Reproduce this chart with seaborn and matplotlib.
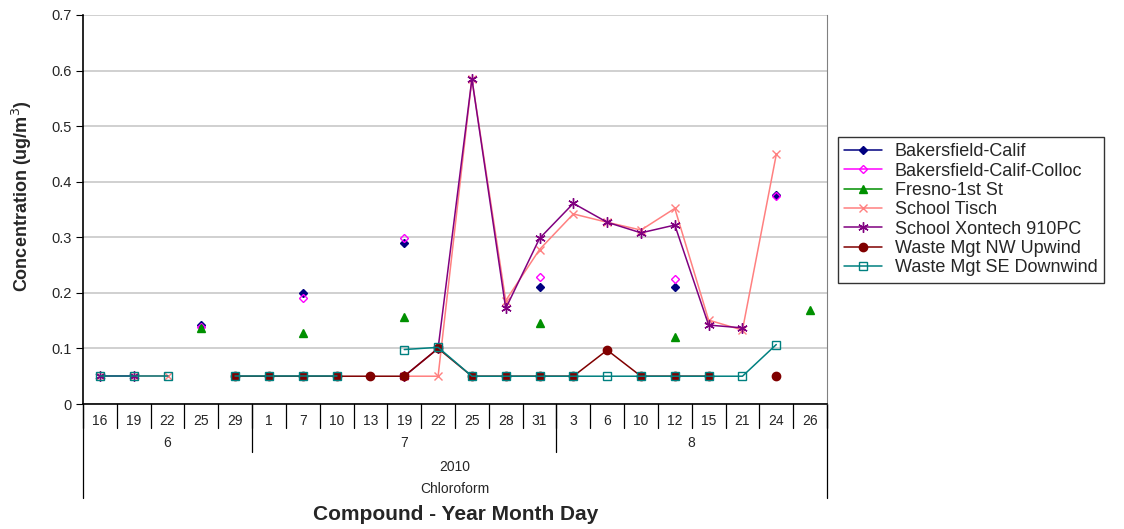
import numpy as np
import pandas as pd
import matplotlib
matplotlib.use("Agg")
import matplotlib.pyplot as plt
import matplotlib.transforms as mtransforms
from matplotlib.lines import Line2D
import seaborn as sns

# x categories: year / month / day
year = "2010"
compound = "Chloroform"
months = ["6"] * 5 + ["7"] * 9 + ["8"] * 8
days = ["16", "19", "22", "25", "29",
        "1", "7", "10", "13", "19", "22", "25", "28", "31",
        "3", "6", "10", "12", "15", "21", "24", "26"]

nan = np.nan
bakersfield = [nan, nan, nan, 0.143, nan, nan, 0.2, nan, nan, 0.289, nan, nan, nan, 0.21,
               nan, nan, nan, 0.21, nan, nan, 0.376, nan]
colloc = [nan, nan, nan, 0.138, nan, nan, 0.19, nan, nan, 0.298, nan, nan, nan, 0.229,
          nan, nan, nan, 0.225, nan, nan, 0.375, nan]
fresno = [nan, nan, nan, 0.137, nan, nan, 0.127, nan, nan, 0.156, nan, nan, nan, 0.145,
          nan, nan, nan, 0.121, nan, nan, nan, 0.17]
tisch = [0.05, 0.05, 0.05, nan, nan, nan, nan, nan, nan, 0.05, 0.05, 0.585, 0.186, 0.278,
         0.342, 0.327, 0.313, 0.352, 0.151, 0.133, 0.449, nan]
xontech = [0.05, 0.05, nan, nan, nan, nan, nan, nan, nan, 0.05, 0.1, 0.585, 0.172, 0.298,
           0.361, 0.327, 0.308, 0.322, 0.142, 0.137, nan, nan]
nw_upwind = [nan, nan, nan, nan, 0.05, 0.05, 0.05, 0.05, 0.05, 0.05, 0.1, 0.05, 0.05, 0.05,
             0.05, 0.097, 0.05, 0.05, 0.05, nan, 0.05, nan]
se_downwind = [0.05, 0.05, 0.05, nan, 0.05, 0.05, 0.05, 0.05, nan, 0.098, 0.102, 0.05, 0.05, 0.05,
               0.05, 0.05, 0.05, 0.05, 0.05, 0.05, 0.107, nan]

series = [
    ("Bakersfield-Calif", bakersfield, dict(color="#000080", marker="D", ms=4.5, mfc="#000080", mec="#000080")),
    ("Bakersfield-Calif-Colloc", colloc, dict(color="#FF00FF", marker="D", ms=4.5, mfc="none", mec="#FF00FF")),
    ("Fresno-1st St", fresno, dict(color="#009000", marker="^", ms=6, mfc="#009000", mec="#009000")),
    ("School Tisch", tisch, dict(color="#FF8080", marker="x", ms=6, mfc="#FF8080", mec="#FF8080")),
    ("School Xontech 910PC", xontech, dict(color="#800080", marker=(6, 2, 0), ms=7.5, mfc="#800080", mec="#800080")),
    ("Waste Mgt NW Upwind", nw_upwind, dict(color="#800000", marker="o", ms=6, mfc="#800000", mec="#800000")),
    ("Waste Mgt SE Downwind", se_downwind, dict(color="#008080", marker="s", ms=5.5, mfc="none", mec="#008080")),
]


def to_frame(vals):
    # split into contiguous runs so gaps stay gaps (like Excel)
    rows, seg, prev = [], 0, False
    for i, v in enumerate(vals):
        if np.isnan(v):
            prev = False
            continue
        if not prev:
            seg += 1
        prev = True
        rows.append((i, v, seg))
    return pd.DataFrame(rows, columns=["pos", "value", "seg"])


sns.set_style("white")
plt.rcParams["font.family"] = ["Liberation Sans", "DejaVu Sans"]

fig = plt.figure(figsize=(11.24, 5.29), dpi=100)
ax = fig.add_axes([83 / 1124, 1 - 404 / 529, (827 - 83) / 1124, 389 / 529])

for name, vals, st in series:
    d = to_frame(vals)
    sns.lineplot(data=d, x="pos", y="value", units="seg", estimator=None, sort=False,
                 ax=ax, legend=False, lw=1.1, mew=1.0, **st)

ax.set_xlim(-0.5, 21.5)
ax.set_ylim(0, 0.7)
ax.set_yticks(np.arange(0, 0.71, 0.1))
ax.set_yticklabels(["0", "0.1", "0.2", "0.3", "0.4", "0.5", "0.6", "0.7"], fontsize=10.5)
ax.yaxis.grid(True, color="#C8C8C8", lw=1.2)
ax.set_axisbelow(True)
ax.tick_params(axis="y", left=True, length=5, width=0.8, color="black", pad=3)
ax.set_xticks([])
ax.set_xlabel("")
ax.set_ylabel("")
ax.spines["left"].set_color("black")
ax.spines["bottom"].set_color("black")
ax.spines["left"].set_linewidth(1.2)
ax.spines["bottom"].set_linewidth(1.2)
ax.spines["top"].set_visible(False)
ax.spines["right"].set_color("#808080")

# multi-level category axis
tr = mtransforms.blended_transform_factory(ax.transData, ax.transAxes)
for i in range(len(days) + 1):
    ax.plot([i - 0.5, i - 0.5], [0, -0.0617], transform=tr, clip_on=False, color="black", lw=0.9)
for i, d in enumerate(days):
    ax.text(i, -0.0437, d, transform=tr, ha="center", va="center", fontsize=10)

bounds = [0]
for i in range(1, len(months)):
    if months[i] != months[i - 1]:
        bounds.append(i)
bounds.append(len(months))
for b in bounds:
    low = -0.2416 if b in (0, len(months)) else -0.1234
    ax.plot([b - 0.5, b - 0.5], [0, low], transform=tr, clip_on=False, color="black", lw=0.9)
for a, b in zip(bounds[:-1], bounds[1:]):
    ax.text((a + b - 1) / 2, -0.1003, months[a], transform=tr, ha="center", va="center", fontsize=10)
ax.text(10.5, -0.162, year, transform=tr, ha="center", va="center", fontsize=10)
ax.text(10.5, -0.2185, compound, transform=tr, ha="center", va="center", fontsize=10)

fig.text(0.405, 1 - 515 / 529, "Compound - Year Month Day", ha="center", va="center",
         fontsize=15, fontweight="bold")
fig.text(22 / 1124, 1 - 196 / 529, "Concentration (ug/m$^3$)", ha="center", va="center",
         rotation=90, fontsize=13, fontweight="bold")

handles = [Line2D([], [], lw=1.1, mew=1.0, **st) for _, _, st in series]
labels = [name for name, _, _ in series]
leg = fig.legend(handles, labels, loc="upper left", bbox_to_anchor=(838 / 1124, 1 - 137 / 529),
                 fontsize=13, frameon=True, fancybox=False, edgecolor="black",
                 labelspacing=0.13, handlelength=2.1, handletextpad=0.7, borderpad=0.35,
                 borderaxespad=0)
leg.get_frame().set_linewidth(1.0)

fig.savefig("out.png", dpi=100)
